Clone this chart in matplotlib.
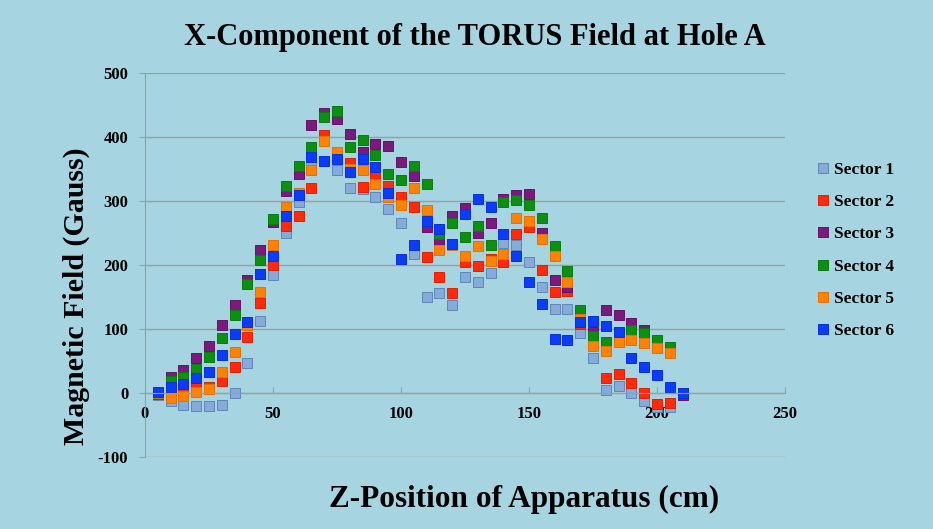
import matplotlib
matplotlib.use("Agg")
from matplotlib import pyplot as plt

plt.rcParams["axes.unicode_minus"] = False

# Z positions (cm)
z = list(range(5, 215, 5))

# X-component of the field (Gauss), one list per sector
sector1 = [-3, -12, -19, -20, -21, -19, 0, 47, 112, 184, 250, 299, 358, 362, 349, 321, 318, 306, 287, 266,
           217, 150, 156, 137, 182, 174, 188, 234, 232, 205, 166, 132, 131, 93, 54, 5, 11, 0, -13, -22, -22, -2]
sector2 = [0, -5, 5, 10, 9, 18, 40, 88, 140, 200, 261, 277, 321, 403, 376, 359, 322, 337, 323, 307,
           290, 213, 182, 157, 204, 198, 210, 205, 248, 260, 192, 158, 160, 108, 80, 23, 30, 16, 0, -17, -15, -2]
sector3 = [-2, 25, 36, 55, 74, 107, 137, 177, 223, 267, 316, 342, 419, 438, 428, 404, 377, 389, 386, 361,
           339, 260, 239, 277, 289, 250, 266, 303, 310, 311, 250, 177, 165, 122, 95, 130, 122, 110, 98, 80, 68, -3]
sector4 = [-1, 19, 25, 38, 57, 86, 122, 170, 208, 272, 324, 355, 385, 431, 441, 384, 396, 372, 342, 333,
           354, 326, 248, 266, 243, 261, 232, 298, 301, 294, 273, 230, 191, 129, 89, 80, 84, 98, 93, 83, 72, 0]
sector5 = [0, -8, -5, 2, 7, 33, 64, 106, 158, 231, 291, 312, 348, 393, 377, 350, 349, 327, 306, 294,
           320, 286, 223, 232, 214, 230, 206, 217, 273, 269, 240, 214, 174, 115, 74, 65, 79, 83, 78, 71, 62, 0]
sector6 = [1, 9, 14, 23, 33, 59, 92, 111, 186, 214, 277, 310, 369, 363, 365, 346, 365, 353, 312, 210,
           231, 269, 256, 233, 280, 303, 290, 248, 214, 174, 139, 84, 83, 111, 113, 105, 95, 54, 41, 28, 10, 0]

labels = ["Sector 1", "Sector 2", "Sector 3", "Sector 4", "Sector 5", "Sector 6"]
colors = ["#86abd9", "#ff2a0a", "#7a1a7c", "#0d8f12", "#ff8205", "#0a3cfa"]
edges = ["#5f86b8", "#e02000", "#651066", "#0a7a0e", "#e86f00", "#0830d8"]

bg = "#a6d5e1"
grid_c = "#a09c9c"
serif = ["Liberation Serif", "DejaVu Serif"]

fig = plt.figure(figsize=(9.33, 5.29), dpi=100, facecolor=bg)
ax = fig.add_axes([0.1554, 0.1361, 0.686, 0.7259], facecolor=bg)

series = [sector1, sector2, sector3, sector4, sector5, sector6]
for vals, lab, c, ec in zip(series, labels, colors, edges):
    ax.plot(z, vals, linestyle="none", marker="s", markersize=7.2,
            markerfacecolor=c, markeredgecolor=ec, markeredgewidth=0.7, label=lab)

ax.set_xlim(0, 250)
ax.set_ylim(-100, 500)
ax.set_xticks([0, 50, 100, 150, 200, 250])
ax.set_yticks([-100, 0, 100, 200, 300, 400, 500])
ax.yaxis.grid(True, color=grid_c, linewidth=1.0)
ax.set_axisbelow(True)

for s in ["top", "right"]:
    ax.spines[s].set_visible(False)
ax.spines["bottom"].set_position(("data", 0))
ax.spines["bottom"].set_color(grid_c)
ax.spines["left"].set_color(grid_c)
ax.tick_params(axis="x", direction="in", length=4, color=grid_c, pad=9)
ax.tick_params(axis="y", direction="out", length=4, color=grid_c, pad=8)

for t in ax.get_xticklabels() + ax.get_yticklabels():
    t.set_family(serif)
    t.set_fontweight("bold")
    t.set_fontsize(12)

fig.text(0.509, 0.93, "X-Component of the TORUS Field at Hole A", ha="center", va="center",
         family=serif, fontweight="bold", fontsize=22)
fig.text(0.562, 0.055, "Z-Position of Apparatus (cm)", ha="center", va="center",
         family=serif, fontweight="bold", fontsize=22.5)
fig.text(0.082, 0.44, "Magnetic Field (Gauss)", ha="center", va="center", rotation=90,
         family=serif, fontweight="bold", fontsize=21.5)

leg = fig.legend(loc="upper left", bbox_to_anchor=(0.86, 0.724), frameon=False,
                 prop={"family": serif, "weight": "bold", "size": 12.5},
                 handlelength=0.6, handletextpad=0.3, labelspacing=0.93, markerscale=0.95)

fig.savefig("out.png", dpi=100, facecolor=bg)
